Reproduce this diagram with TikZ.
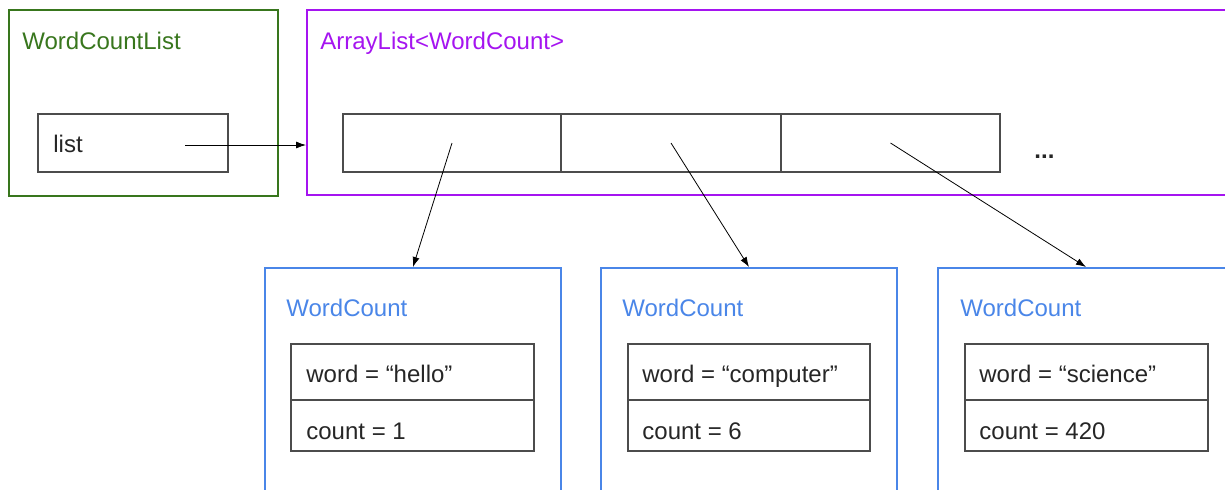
\documentclass[tikz,border=0pt]{standalone}
\usepackage{fontspec}
\setmainfont{Liberation Sans}
\usetikzlibrary{arrows.meta}
\definecolor{listgreen}{RGB}{56,118,29}
\definecolor{arrpurple}{RGB}{165,20,240}
\definecolor{wcblue}{RGB}{74,134,232}
\tikzset{
  objbox/.style={draw, rectangle, line width=1pt, inner sep=0pt},
  slotbox/.style={draw=black!70, rectangle, line width=0.6pt, inner sep=0pt},
  txt/.style={anchor=base west, inner sep=0pt, text=black!85, font=\fontsize{12}{14}\selectfont},
}
\begin{document}
\begin{tikzpicture}[x=0.5pt,y=-0.5pt,>={Latex[length=5pt,width=3.5pt]}]
\clip (0,0) rectangle (1225,489);
\node(wcl) [objbox,draw=listgreen,minimum width=134.5pt,minimum height=93pt] at (143.5,103) {};
\node(wcltitle) [txt,text=listgreen] at (22,49) {WordCountList};
%
\node(listfield) [slotbox,minimum width=95pt,minimum height=29pt] at (133,143) {};
\node(listname) [txt] at (53,152) {list};
\coordinate(listptr) at (185,145);
%
\node(al) [objbox,draw=arrpurple,minimum width=466.5pt,minimum height=92.5pt] at (773.5,102.5) {};
\node(altitle) [txt,text=arrpurple] at (320,49) {ArrayList<WordCount>};
\draw[->](listptr) -- (listptr -| al.west) {};
%
\node(slot1) [slotbox,minimum width=109pt,minimum height=29pt] at (452,143) {};
\node(slot2) [slotbox,minimum width=110pt,minimum height=29pt] at (671,143) {};
\node(slot3) [slotbox,minimum width=109.5pt,minimum height=29pt] at (890.5,143) {};
\node(more) [txt,font=\fontsize{12}{14}\selectfont\bfseries] at (1034,158) {...};
%
\node(wc1) [objbox,draw=wcblue,minimum width=148pt,minimum height=116pt] at (413,384) {};
\node(wc1title) [txt,text=wcblue] at (286,316) {WordCount};
\node(wc1word) [slotbox,minimum width=121.5pt,minimum height=28pt] at (412.5,372) {};
\node(wc1count) [slotbox,minimum width=121.5pt,minimum height=25.5pt] at (412.5,425.5) {};
\node[txt] at (306,382) {word = “hello”};
\node[txt] at (306,439) {count = 1};
\draw[->](slot1.center) -- (wc1.north) {};
%
\node(wc2) [objbox,draw=wcblue,minimum width=148pt,minimum height=116pt] at (749,384) {};
\node(wc2title) [txt,text=wcblue] at (622,316) {WordCount};
\node(wc2word) [slotbox,minimum width=121pt,minimum height=28pt] at (749,372) {};
\node(wc2count) [slotbox,minimum width=121pt,minimum height=25.5pt] at (749,425.5) {};
\node[txt] at (642,382) {word = “computer”};
\node[txt] at (642,439) {count = 6};
\draw[->](slot2.center) -- (wc2.north) {};
%
\node(wc3) [objbox,draw=wcblue,minimum width=148pt,minimum height=116pt] at (1086,384) {};
\node(wc3title) [txt,text=wcblue] at (960,316) {WordCount};
\node(wc3word) [slotbox,minimum width=121.5pt,minimum height=28pt] at (1086.5,372) {};
\node(wc3count) [slotbox,minimum width=121.5pt,minimum height=25.5pt] at (1086.5,425.5) {};
\node[txt] at (979,382) {word = “science”};
\node[txt] at (979,439) {count = 420};
\draw[->](slot3.center) -- (wc3.north) {};
\end{tikzpicture}
\end{document}
